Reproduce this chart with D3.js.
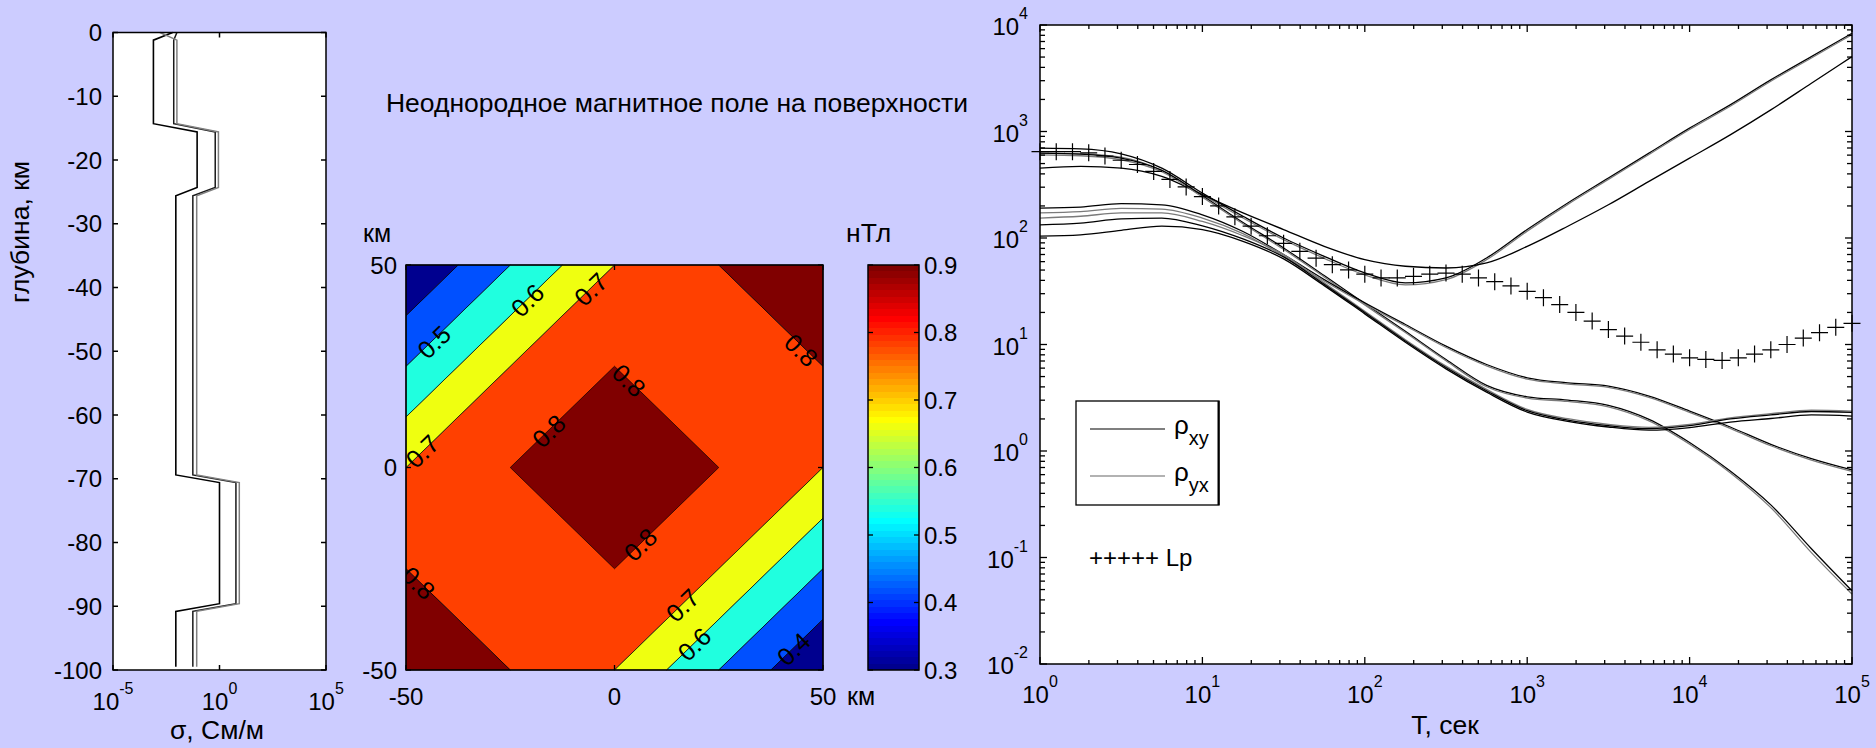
<!DOCTYPE html>
<html><head><meta charset="utf-8">
<script src="https://cdn.jsdelivr.net/npm/d3@7"></script>
<style>
body{margin:0;background:#ccccff;}
svg{display:block;}
text{font-family:"Liberation Sans", Arial, Helvetica, sans-serif;fill:#000;}
</style></head>
<body><svg id="chart" width="1876" height="748"></svg>
<script>
// ---------------- DATA ----------------
// Panel 1: conductivity profiles
const depthKm = [0, -1.2, -14.3, -15.6, -24.3, -25.6, -69.4, -70.6, -89.6, -90.8, -99.5];
const sigmaProfile1 = [0.0063, 0.00079, 0.00079, 0.089, 0.089, 0.0089, 0.0089, 1.0, 1.0, 0.0089, 0.0089];
const sigmaProfile2 = [0.0100, 0.0071, 0.0071, 0.63, 0.63, 0.056, 0.056, 5.9, 5.9, 0.056, 0.056];
const sigmaProfile3 = [0.0016, 0.0100, 0.0100, 0.89, 0.89, 0.085, 0.085, 8.5, 8.5, 0.085, 0.085];
const depthTicks = [0, -10, -20, -30, -40, -50, -60, -70, -80, -90, -100];
const sigmaTickExp = [-5, 0, 5];

// Panel 2: filled contour bands (lower level of band, polygon in km)
const bandLevels = [0.7, 0.8, 0.8, 0.8, 0.6, 0.6, 0.5, 0.5, 0.4, 0.4, 0.3, 0.3];
const bandPolygons = [
  [[0,50],[25,50],[50,25],[50,0],[0,-50],[-25,-50],[-50,-25],[-50,0]],
  [[0,25],[25,0],[0,-25],[-25,0]],
  [[25,50],[50,50],[50,25]],
  [[-50,-25],[-50,-50],[-25,-50]],
  [[-50,0],[0,50],[-12.5,50],[-50,12.5]],
  [[0,-50],[50,0],[50,-12.5],[12.5,-50]],
  [[-50,12.5],[-12.5,50],[-25,50],[-50,25]],
  [[12.5,-50],[50,-12.5],[50,-25],[25,-50]],
  [[-50,25],[-25,50],[-37.5,50],[-50,37.5]],
  [[25,-50],[50,-25],[50,-37.5],[37.5,-50]],
  [[-50,37.5],[-37.5,50],[-50,50]],
  [[37.5,-50],[50,-37.5],[50,-50]]
];
const labelText = ['0.5','0.6','0.7','0.7','0.8','0.8','0.8','0.8','0.8','0.7','0.6','0.4'];
const labelXkm  = [-43.3, -20.9, -5.7, -46.1, 44.8, 3.5, -15.8, 6.2, -47.0, 16.3, 19.1, 42.9];
const labelYkm  = [31.0, 41.3, 44.0, 4.0, 29.0, 21.5, 9.0, -19.0, -28.5, -34.0, -43.6, -44.8];
const labelDir  = [1, 1, 1, 1, -1, -1, 1, 1, -1, 1, 1, 1];
const kmTicks = [-50, 0, 50];
const colorbarTicks = [0.3, 0.4, 0.5, 0.6, 0.7, 0.8, 0.9];

// Panel 3: apparent resistivity curves
const periods = [1, 1.778, 3.162, 5.623, 10, 17.78, 31.62, 56.23, 100, 177.8, 316.2, 562.3,
                 1000, 1778, 3162, 5623, 10000, 17783, 31623, 56234, 100000];
const rhoR1 = [698, 688, 617, 453, 264, 160, 100, 67.3, 47.0, 37.9, 42.2, 64.9, 120, 213, 365, 626, 1075, 1778, 3051, 5048, 8354];
const rhoR2 = [626, 617, 575, 431, 255, 154, 96.5, 64.5, 45.0, 36.3, 40.7, 62.6, 116, 207, 355, 609, 1044, 1728, 2965, 4905, 8117];
const rhoR3 = [453, 470, 453, 379, 255, 172, 120, 83.5, 62.6, 54.3, 52.3, 58.3, 83.5, 129, 205, 340, 562, 930, 1597, 2839, 5048];
const rhoW1 = [626, 613, 562, 431, 249, 140, 80.6, 44.4, 24.2, 13.3, 7.23, 4.13, 3.23, 3.01, 2.68, 1.98, 1.20, 0.649, 0.312, 0.121, 0.0487];
const rhoW2 = [604, 592, 543, 419, 242, 136, 78.3, 43.1, 23.5, 12.96, 7.03, 4.01, 3.14, 2.92, 2.60, 1.92, 1.16, 0.626, 0.294, 0.111, 0.0453];
const rhoU1 = [191, 195, 210, 205, 165, 115, 69.8, 40.7, 24.6, 15.4, 9.65, 6.49, 4.87, 4.37, 4.07, 3.28, 2.37, 1.68, 1.155, 0.848, 0.664];
const rhoU2 = [172, 177, 190, 187, 154, 110, 67.3, 39.5, 23.9, 15.0, 9.37, 6.31, 4.73, 4.25, 3.95, 3.18, 2.30, 1.63, 1.12, 0.823, 0.645];
const rhoV1 = [154, 160, 172, 172, 143, 105, 69.8, 37.9, 20.5, 11.1, 6.26, 3.79, 2.46, 2.01, 1.78, 1.67, 1.78, 2.05, 2.24, 2.42, 2.37];
const rhoV2 = [133, 138, 151, 154, 130, 97.9, 66.4, 36.8, 20.0, 10.8, 6.09, 3.68, 2.39, 1.95, 1.73, 1.62, 1.73, 2.00, 2.18, 2.35, 2.30];
const rhoV3 = [104, 107, 118, 129, 120, 93.1, 63.6, 35.7, 19.4, 10.5, 5.91, 3.57, 2.32, 1.90, 1.68, 1.57, 1.66, 1.87, 2.02, 2.18, 2.13];
const curveSeries = [rhoR1, rhoR2, rhoR3, rhoW1, rhoW2, rhoU1, rhoU2, rhoV1, rhoV2, rhoV3];
const curveKind = ['xy', 'yx', 'xy', 'xy', 'yx', 'xy', 'yx', 'yx', 'xy', 'xy'];

const lpPeriods = [1, 1.259, 1.585, 1.995, 2.512, 3.162, 3.981, 5.012, 6.310, 7.943,
  10, 12.59, 15.85, 19.95, 25.12, 31.62, 39.81, 50.12, 63.10, 79.43,
  100, 125.9, 158.5, 199.5, 251.2, 316.2, 398.1, 501.2, 631.0, 794.3,
  1000, 1259, 1585, 1995, 2512, 3162, 3981, 5012, 6310, 7943,
  10000, 12589, 15849, 19953, 25119, 31623, 39811, 50119, 63096, 79433, 100000];
const lpRho = [646, 646, 646, 631, 589, 537, 490, 422, 355, 302,
  245, 200, 158, 129, 105, 89.1, 75.0, 64.6, 56.2, 50.1,
  45.7, 42.2, 42.2, 43.7, 45.7, 46.8, 45.7, 42.2, 38.9, 35.5,
  31.6, 27.5, 23.7, 20.0, 16.6, 13.8, 12.0, 10.5, 8.91, 8.13,
  7.50, 7.24, 7.08, 7.50, 8.13, 8.91, 10.0, 11.5, 12.9, 14.5, 15.8];
const periodTickExp = [0, 1, 2, 3, 4, 5];
const rhoTickExp = [-2, -1, 0, 1, 2, 3, 4];

// ---------------- DRAWING ----------------
const svg = d3.select('#chart');
svg.append('rect').attr('width', 1876).attr('height', 748).attr('fill', '#ccccff');
const defs = svg.append('defs');
const TICK_FS = 24, LABEL_FS = 26.5, SUP_FS = 16;
const colXY = '#000000', colYX = '#7a7a7a';

function supLabel(g, x, y, base, exp, anchor) {
  const t = g.append('text').attr('x', x).attr('y', y).attr('text-anchor', anchor)
    .attr('font-size', TICK_FS);
  t.append('tspan').text(base);
  t.append('tspan').attr('dy', -16).attr('font-size', SUP_FS).text(exp);
  return t;
}

// MATLAB-style jet(64) colormap
function jet64(i) { // i: 1..64
  const u = k => (k < 1 || k > 47) ? 0 : (k <= 16 ? k / 16 : (k <= 31 ? 1 : (48 - k) / 16));
  const r = u(i - 24), g = u(i - 8), b = u(i + 8);
  return d3.rgb(Math.round(r * 255), Math.round(g * 255), Math.round(b * 255));
}

// ===== Panel 1 =====
const p1 = {l: 113, r: 326, t: 32.5, b: 670};
const x1 = d3.scaleLog().domain([1e-5, 1e5]).range([p1.l, p1.r]);
const y1 = d3.scaleLinear().domain([0, -100]).range([p1.t, p1.b]);
const g1 = svg.append('g');
g1.append('rect').attr('x', p1.l).attr('y', p1.t).attr('width', p1.r - p1.l).attr('height', p1.b - p1.t)
  .attr('fill', '#fff');
const line1 = d3.line().x(d => x1(d[1])).y(d => y1(d[0]));
[[sigmaProfile1, '#000', 1.6], [sigmaProfile2, '#1a1a1a', 1.5], [sigmaProfile3, '#808080', 1.5]].forEach(([s, c, w]) => {
  g1.append('path').attr('d', line1(depthKm.map((d, i) => [d, s[i]])))
    .attr('fill', 'none').attr('stroke', c).attr('stroke-width', w);
});
depthTicks.forEach(v => {
  const y = y1(v);
  g1.append('line').attr('x1', p1.l).attr('x2', p1.l + 5).attr('y1', y).attr('y2', y).attr('stroke', '#000').attr('stroke-width', 1.5);
  g1.append('line').attr('x1', p1.r - 5).attr('x2', p1.r).attr('y1', y).attr('y2', y).attr('stroke', '#000').attr('stroke-width', 1.5);
  g1.append('text').attr('x', p1.l - 11).attr('y', y + 8.5).attr('text-anchor', 'end').attr('font-size', TICK_FS).text(v);
});
sigmaTickExp.forEach(e => {
  const x = x1(Math.pow(10, e));
  g1.append('line').attr('x1', x).attr('x2', x).attr('y1', p1.b).attr('y2', p1.b - 5).attr('stroke', '#000').attr('stroke-width', 1.5);
  g1.append('line').attr('x1', x).attr('x2', x).attr('y1', p1.t).attr('y2', p1.t + 5).attr('stroke', '#000').attr('stroke-width', 1.5);
  supLabel(g1, x, 710, '10', e < 0 ? '-' + (-e) : String(e), 'middle');
});
g1.append('rect').attr('x', p1.l).attr('y', p1.t).attr('width', p1.r - p1.l).attr('height', p1.b - p1.t)
  .attr('fill', 'none').attr('stroke', '#000').attr('stroke-width', 1.5);
g1.append('text').attr('transform', 'translate(29,232) rotate(-90)').attr('text-anchor', 'middle')
  .attr('font-size', LABEL_FS).text('глубина, км');
g1.append('text').attr('x', 217).attr('y', 739).attr('text-anchor', 'middle').attr('font-size', LABEL_FS).text('σ, См/м');

// ===== Panel 2 =====
const p2 = {l: 406, r: 823, t: 265, b: 670};
const x2 = d3.scaleLinear().domain([-50, 50]).range([p2.l, p2.r]);
const y2 = d3.scaleLinear().domain([-50, 50]).range([p2.b, p2.t]);
const levelIndex = L => Math.min(64, Math.floor((L - 0.3) / 0.5 * 64 + 1e-9) + 1);
const g2 = svg.append('g');
defs.append('clipPath').attr('id', 'clip2').append('rect')
  .attr('x', p2.l).attr('y', p2.t).attr('width', p2.r - p2.l).attr('height', p2.b - p2.t);
const polyLine = d3.line().x(d => x2(d[0])).y(d => y2(d[1])).curve(d3.curveLinearClosed);
bandPolygons.forEach((poly, i) => {
  g2.append('path').attr('d', polyLine(poly)).attr('fill', jet64(levelIndex(bandLevels[i])))
    .attr('stroke', '#000').attr('stroke-width', 0.7).attr('stroke-linejoin', 'round');
});
const ang = Math.atan2(y2(1) - y2(0), x2(1) - x2(0)) * 180 / Math.PI;
const lg = g2.append('g').attr('clip-path', 'url(#clip2)');
labelText.forEach((t, i) => {
  const a = labelDir[i] > 0 ? ang : -ang;
  lg.append('text').attr('transform', `translate(${x2(labelXkm[i])},${y2(labelYkm[i])}) rotate(${a})`)
    .attr('text-anchor', 'middle').attr('dy', '0.36em').attr('font-size', 25).text(t);
});
kmTicks.forEach(v => {
  const x = x2(v), y = y2(v);
  g2.append('line').attr('x1', x).attr('x2', x).attr('y1', p2.b).attr('y2', p2.b - 5).attr('stroke', '#000').attr('stroke-width', 1.3);
  g2.append('line').attr('x1', x).attr('x2', x).attr('y1', p2.t).attr('y2', p2.t + 5).attr('stroke', '#000').attr('stroke-width', 1.3);
  g2.append('line').attr('x1', p2.l).attr('x2', p2.l + 5).attr('y1', y).attr('y2', y).attr('stroke', '#000').attr('stroke-width', 1.3);
  g2.append('line').attr('x1', p2.r - 5).attr('x2', p2.r).attr('y1', y).attr('y2', y).attr('stroke', '#000').attr('stroke-width', 1.3);
  g2.append('text').attr('x', x).attr('y', 705).attr('text-anchor', 'middle').attr('font-size', TICK_FS).text(v);
  g2.append('text').attr('x', p2.l - 9).attr('y', y + 8.5).attr('text-anchor', 'end').attr('font-size', TICK_FS).text(v);
});
g2.append('rect').attr('x', p2.l).attr('y', p2.t).attr('width', p2.r - p2.l).attr('height', p2.b - p2.t)
  .attr('fill', 'none').attr('stroke', '#000').attr('stroke-width', 1.5);
g2.append('text').attr('x', 363).attr('y', 242).attr('font-size', 25).text('км');
g2.append('text').attr('x', 847).attr('y', 705).attr('font-size', 25).text('км');
g2.append('text').attr('x', 846).attr('y', 242).attr('font-size', LABEL_FS).text('нТл');
svg.append('text').attr('x', 677).attr('y', 112).attr('text-anchor', 'middle').attr('font-size', LABEL_FS)
  .text('Неоднородное магнитное поле на поверхности');

// colorbar
const cb = {l: 868, r: 919, t: 265, b: 670};
const cS = d3.scaleLinear().domain([0.3, 0.9]).range([cb.b, cb.t]);
const grad = defs.append('linearGradient').attr('id', 'jetgrad')
  .attr('x1', 0).attr('y1', 1).attr('x2', 0).attr('y2', 0);
d3.range(1, 65).forEach(i => {
  grad.append('stop').attr('offset', (i - 1) / 64).attr('stop-color', jet64(i));
  grad.append('stop').attr('offset', i / 64).attr('stop-color', jet64(i));
});
svg.append('rect').attr('x', cb.l).attr('y', cb.t).attr('width', cb.r - cb.l).attr('height', cb.b - cb.t)
  .attr('fill', 'url(#jetgrad)').attr('stroke', '#000').attr('stroke-width', 1.5);
colorbarTicks.forEach(v => {
  const y = cS(v);
  svg.append('line').attr('x1', cb.l).attr('x2', cb.l + 5).attr('y1', y).attr('y2', y).attr('stroke', '#000').attr('stroke-width', 1.3);
  svg.append('line').attr('x1', cb.r - 5).attr('x2', cb.r).attr('y1', y).attr('y2', y).attr('stroke', '#000').attr('stroke-width', 1.3);
  svg.append('text').attr('x', cb.r + 5).attr('y', y + 8.5).attr('font-size', TICK_FS).text(v.toFixed(1));
});

// ===== Panel 3 =====
const p3 = {l: 1040, r: 1852, t: 25, b: 664};
const x3 = d3.scaleLog().domain([1, 1e5]).range([p3.l, p3.r]);
const y3 = d3.scaleLog().domain([1e-2, 1e4]).range([p3.b, p3.t]);
const g3 = svg.append('g');
g3.append('rect').attr('x', p3.l).attr('y', p3.t).attr('width', p3.r - p3.l).attr('height', p3.b - p3.t).attr('fill', '#fff');
const lineRho = d3.line().x(d => x3(d[0])).y(d => y3(d[1])).curve(d3.curveMonotoneX);
curveSeries.forEach((s, i) => {
  g3.append('path').attr('d', lineRho(periods.map((p, j) => [p, s[j]])))
    .attr('fill', 'none').attr('stroke', curveKind[i] === 'xy' ? colXY : colYX).attr('stroke-width', 1.3);
});
lpPeriods.forEach((p, i) => {
  g3.append('path').attr('transform', `translate(${x3(p)},${y3(lpRho[i])})`)
    .attr('d', 'M-8.5,0H8.5M0,-8.5V8.5').attr('stroke', '#000').attr('stroke-width', 1.2).attr('fill', 'none');
});
x3.ticks().forEach(v => {
  const major = Math.abs(Math.log10(v) - Math.round(Math.log10(v))) < 1e-9;
  const L = major ? 7 : 4, x = x3(v);
  g3.append('line').attr('x1', x).attr('x2', x).attr('y1', p3.b).attr('y2', p3.b - L).attr('stroke', '#000').attr('stroke-width', 1.3);
  g3.append('line').attr('x1', x).attr('x2', x).attr('y1', p3.t).attr('y2', p3.t + L).attr('stroke', '#000').attr('stroke-width', 1.3);
});
y3.ticks().forEach(v => {
  const major = Math.abs(Math.log10(v) - Math.round(Math.log10(v))) < 1e-9;
  const L = major ? 7 : 5, y = y3(v);
  g3.append('line').attr('x1', p3.l).attr('x2', p3.l + L).attr('y1', y).attr('y2', y).attr('stroke', '#000').attr('stroke-width', 1.3);
  g3.append('line').attr('x1', p3.r - L).attr('x2', p3.r).attr('y1', y).attr('y2', y).attr('stroke', '#000').attr('stroke-width', 1.3);
});
periodTickExp.forEach(e => supLabel(g3, x3(Math.pow(10, e)), 703, '10', String(e), 'middle'));
rhoTickExp.forEach(e => supLabel(g3, p3.l - 12, y3(Math.pow(10, e)) + 10, '10', e < 0 ? '-' + (-e) : String(e), 'end'));
g3.append('rect').attr('x', p3.l).attr('y', p3.t).attr('width', p3.r - p3.l).attr('height', p3.b - p3.t)
  .attr('fill', 'none').attr('stroke', '#000').attr('stroke-width', 1.5);
g3.append('text').attr('x', 1445).attr('y', 734).attr('text-anchor', 'middle').attr('font-size', LABEL_FS).text('T, сек');

// legend
const lgd = svg.append('g');
lgd.append('rect').attr('x', 1076).attr('y', 401).attr('width', 143).attr('height', 104)
  .attr('fill', '#fff').attr('stroke', '#000').attr('stroke-width', 1.3);
lgd.append('line').attr('x1', 1218.5).attr('x2', 1218.5).attr('y1', 401).attr('y2', 505).attr('stroke', '#000').attr('stroke-width', 2);
lgd.append('line').attr('x1', 1090).attr('x2', 1165).attr('y1', 429).attr('y2', 429).attr('stroke', '#555').attr('stroke-width', 1.3);
lgd.append('line').attr('x1', 1090).attr('x2', 1165).attr('y1', 476).attr('y2', 476).attr('stroke', '#999').attr('stroke-width', 1.3);
[['xy', 434], ['yx', 481]].forEach(([s, y]) => {
  const t = lgd.append('text').attr('x', 1174).attr('y', y).attr('font-size', 26);
  t.append('tspan').text('ρ');
  t.append('tspan').attr('dy', 11).attr('font-size', 20).text(s);
});
lgd.append('text').attr('x', 1089).attr('y', 566).attr('font-size', 24).text('+++++  Lp');
</script>
</body></html>
